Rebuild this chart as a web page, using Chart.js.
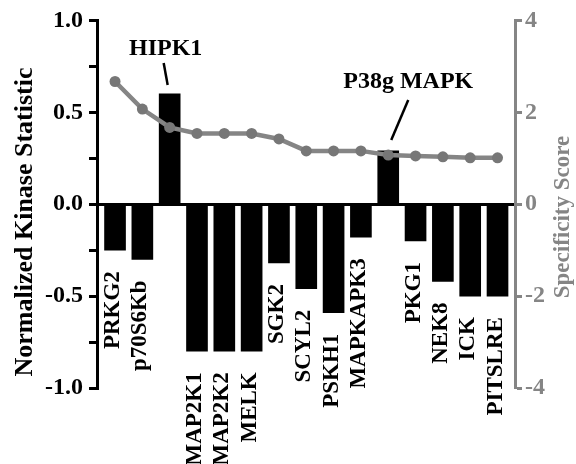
<!DOCTYPE html>
<html>
<head>
<meta charset="utf-8">
<script src="https://cdn.jsdelivr.net/npm/chart.js@4"></script>
<style>
  body { margin: 0; background: #fff; }
  canvas { display: block; }
</style>
</head>
<body>
<canvas id="kinaseChart" width="576" height="464"></canvas>
<script>
const kinases = ["PRKG2", "p70S6Kb", "HIPK1", "MAP2K1", "MAP2K2", "MELK", "SGK2", "SCYL2",
                 "PSKH1", "MAPKAPK3", "P38g MAPK", "PKG1", "NEK8", "ICK", "PITSLRE"];
const kinaseStat = [-0.25, -0.30, 0.60, -0.80, -0.80, -0.80, -0.32, -0.46,
                    -0.59, -0.18, 0.29, -0.20, -0.42, -0.50, -0.50];
const specificity = [2.67, 2.07, 1.67, 1.54, 1.54, 1.54, 1.42, 1.16,
                     1.16, 1.16, 1.07, 1.05, 1.03, 1.01, 1.01];
const statTicks = [-1, -0.75, -0.5, -0.25, 0, 0.25, 0.5, 0.75, 1];
const scoreTicks = [-4, -2, 0, 2, 4];

const serif = "'Liberation Serif', 'Times New Roman', serif";
const gray = "#858585";

// callouts for the positive bars: text offset and leader line, relative to the bar top
const callouts = {
    "HIPK1": { tx: -4, ty: -39, x1: -6, y1: -31, x2: -2, y2: -9 },
    "P38g MAPK": { tx: 20, ty: -63, x1: 20, y1: -51, x2: 3, y2: -11 }
};

const labelPlugin = {
    id: "kinaseLabels",
    afterDatasetsDraw(chart) {
        const ctx = chart.ctx;
        const bars = chart.getDatasetMeta(0).data;
        ctx.save();
        ctx.fillStyle = "#000";
        ctx.strokeStyle = "#000";
        ctx.lineWidth = 2.5;
        bars.forEach((bar, i) => {
            const name = kinases[i];
            if (kinaseStat[i] < 0) {
                ctx.save();
                ctx.font = "bold 23px " + serif;
                ctx.translate(bar.x + 4, bar.y + 21);
                ctx.rotate(-Math.PI / 2);
                ctx.textAlign = "right";
                ctx.textBaseline = "alphabetic";
                ctx.fillText(name, 0, 0);
                ctx.restore();
            } else if (callouts[name]) {
                const c = callouts[name];
                ctx.font = "bold 24px " + serif;
                ctx.textAlign = "center";
                ctx.textBaseline = "alphabetic";
                ctx.fillText(name, bar.x + c.tx, bar.y + c.ty);
                ctx.beginPath();
                ctx.moveTo(bar.x + c.x1, bar.y + c.y1);
                ctx.lineTo(bar.x + c.x2, bar.y + c.y2);
                ctx.stroke();
            }
        });
        ctx.restore();
    },
    afterDraw(chart) {
        const ctx = chart.ctx;
        ctx.save();
        ctx.textAlign = "center";
        ctx.textBaseline = "middle";

        // left axis title
        ctx.save();
        ctx.translate(25, 222);
        ctx.rotate(-Math.PI / 2);
        ctx.fillStyle = "#000";
        ctx.font = "bold 26px " + serif;
        ctx.fillText("Normalized Kinase Statistic", 0, 0);
        ctx.restore();

        // right axis title
        ctx.save();
        ctx.translate(563, 217);
        ctx.rotate(-Math.PI / 2);
        ctx.fillStyle = gray;
        ctx.font = "bold 23px " + serif;
        ctx.fillText("Specificity Score", 0, 0);
        ctx.restore();

        ctx.restore();
    }
};

new Chart(document.getElementById("kinaseChart"), {
    data: {
        datasets: [
            {
                type: "bar",
                data: kinaseStat.map((v, i) => ({ x: i, y: v })),
                backgroundColor: "#000",
                barThickness: 21,
                yAxisID: "y",
                order: 1
            },
            {
                type: "line",
                data: specificity.map((v, i) => ({ x: i, y: v })),
                yAxisID: "y2",
                borderColor: gray,
                borderWidth: 4.5,
                pointRadius: 5.5,
                pointBackgroundColor: "#777",
                pointBorderWidth: 0,
                order: 0
            }
        ]
    },
    options: {
        responsive: false,
        animation: false,
        layout: { padding: { top: 16, bottom: 76, left: 0, right: 0 } },
        plugins: { legend: { display: false }, tooltip: { enabled: false } },
        scales: {
            x: { type: "linear", min: -0.66, max: 14.64, offset: false, display: false },
            y: {
                position: "left",
                min: -1,
                max: 1,
                afterBuildTicks: s => { s.ticks = statTicks.map(v => ({ value: v })); },
                afterFit: s => { s.width = 97; },
                border: { display: true, color: "#000", width: 3 },
                grid: {
                    drawOnChartArea: true,
                    color: c => (c.tick && c.tick.value === 0) ? "#000" : "rgba(0,0,0,0)",
                    lineWidth: 3,
                    tickColor: "#000",
                    tickWidth: 3,
                    tickLength: 8
                },
                ticks: {
                    color: "#000",
                    padding: 6,
                    font: { family: serif, size: 24, weight: "bold" },
                    callback: v => Number.isInteger(v * 2) ? v.toFixed(1) : ""
                }
            },
            y2: {
                position: "right",
                min: -4,
                max: 4,
                afterBuildTicks: s => { s.ticks = scoreTicks.map(v => ({ value: v })); },
                afterFit: s => { s.width = 61; },
                border: { display: true, color: gray, width: 3 },
                grid: { drawOnChartArea: false, tickColor: gray, tickWidth: 3, tickLength: 7 },
                ticks: {
                    color: gray,
                    padding: 3,
                    font: { family: serif, size: 24, weight: "bold" }
                }
            }
        }
    },
    plugins: [labelPlugin]
});
</script>
</body>
</html>
